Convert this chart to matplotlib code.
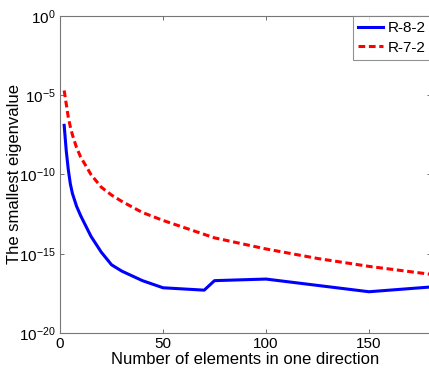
import matplotlib
matplotlib.use("Agg")
import matplotlib.pyplot as plt
from matplotlib.ticker import FixedLocator, FuncFormatter
import numpy as np

plt.rcParams['font.family'] = ['Liberation Sans', 'DejaVu Sans']
plt.rcParams['mathtext.fontset'] = 'custom'
plt.rcParams['mathtext.rm'] = 'Liberation Sans'
plt.rcParams['mathtext.it'] = 'Liberation Sans'

# Smallest eigenvalue vs. mesh size (log10 values)
n_r82 = [2, 3, 4, 5, 6, 8, 10, 15, 20, 25, 30, 40, 50, 70, 75, 100, 150, 180]
log_r82 = [-6.9, -8.5, -9.7, -10.6, -11.2, -12.0, -12.6, -13.9, -14.9, -15.7,
           -16.1, -16.7, -17.15, -17.3, -16.7, -16.6, -17.4, -17.1]

n_r72 = [2, 4, 5, 6, 8, 10, 15, 20, 25, 30, 40, 50, 75, 100, 125, 150, 180]
log_r72 = [-4.7, -6.4, -7.0, -7.5, -8.3, -8.9, -10.0, -10.8, -11.3, -11.7,
           -12.4, -12.9, -14.0, -14.7, -15.3, -15.8, -16.3]

x_ticks = [0, 50, 100, 150]
y_ticks = [1e-20, 1e-15, 1e-10, 1e-5, 1e0]

fig = plt.figure(figsize=(4.29, 3.72), dpi=100)
ax = fig.add_axes([0.140, 0.105, 0.864, 0.852])

ax.semilogy(n_r82, 10.0 ** np.array(log_r82), color='#0000ff', lw=2.2, label='R-8-2')
ax.semilogy(n_r72, 10.0 ** np.array(log_r72), color='#ff0000', lw=2.2,
            dashes=(2.2, 1.2), label='R-7-2')

ax.set_xlim(0, 180)
ax.set_ylim(1e-20, 1e0)
ax.xaxis.set_major_locator(FixedLocator(x_ticks))
ax.yaxis.set_major_locator(FixedLocator(y_ticks))
ax.yaxis.set_minor_locator(FixedLocator([]))
ax.yaxis.set_major_formatter(FuncFormatter(lambda v, p: r'$10^{%d}$' % round(np.log10(v))))

ax.tick_params(direction='in', top=True, right=True, length=3, width=0.6,
               color='#555555', labelsize=11, pad=3)
for s in ax.spines.values():
    s.set_color('#777777')
    s.set_linewidth(0.8)

ax.set_xlabel('Number of elements in one direction', fontsize=12, labelpad=1)
ax.set_ylabel('The smallest eigenvalue', fontsize=12)
ax.yaxis.set_label_coords(-0.104, 0.5)

leg = ax.legend(loc='upper right', fontsize=11, borderaxespad=0, frameon=True,
                fancybox=False, handlelength=1.6, handletextpad=0.3,
                borderpad=0.35, labelspacing=0.35)
leg.get_frame().set_edgecolor('#777777')
leg.get_frame().set_linewidth(0.8)

fig.savefig('out.png', dpi=100)
